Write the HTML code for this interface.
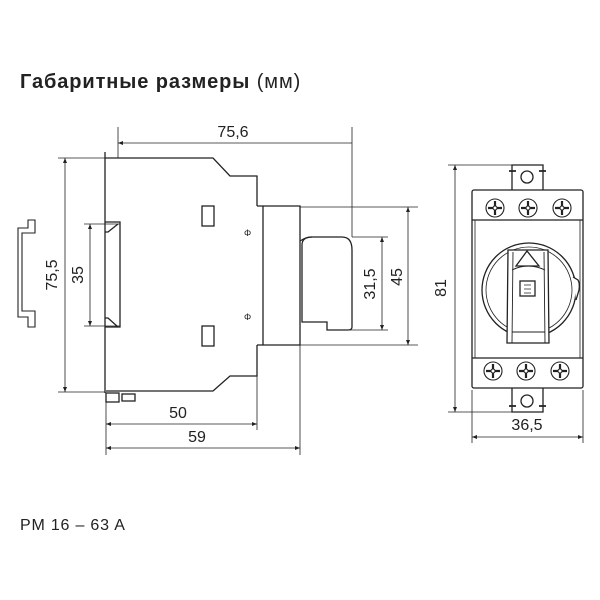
<!DOCTYPE html>
<html><head><meta charset="utf-8"><style>
html,body{margin:0;padding:0;background:#fff;width:600px;height:600px;overflow:hidden}
svg{display:block}
text{font-family:"Liberation Sans","DejaVu Sans",sans-serif;fill:#222}
</style></head><body>
<svg width="600" height="600" viewBox="0 0 600 600" xmlns="http://www.w3.org/2000/svg">
<defs>
<marker id="a" viewBox="0 0 10 10" refX="10" refY="5" markerWidth="7" markerHeight="5" orient="auto-start-reverse" markerUnits="userSpaceOnUse"><path d="M0,1 L10,5 L0,9 Z" fill="#222"/></marker>
</defs>
<text x="20" y="88" font-size="20" font-weight="bold" letter-spacing="0.9">Габаритные размеры <tspan font-weight="normal">(мм)</tspan></text>
<text x="20" y="530" font-size="16" letter-spacing="0.8">PM 16 – 63 A</text>

<g fill="none" stroke="#222" stroke-width="1.3">
<path d="M28,220 H35 V233 H22 V311 H35 V327 H28 V317 H18 V228 H28 Z" stroke-width="1.1"/>
<path d="M105,152 V393 M105,158 H213 L230,176 H257 V206 M257,345 V376 H230 L213,391 H106"/>
<path d="M257,206 H300 V345 H257"/>
<path d="M263,206 V345"/>
<path d="M105,222 H120 V327 H105 M105,232 L108,232 L118,224 M105,318 L108,318 L118,327"/>
<rect x="202" y="206" width="12" height="20"/>
<rect x="202" y="326" width="12" height="20"/>
<rect x="106" y="393" width="13" height="9"/>
<rect x="122" y="394" width="13" height="7"/>
<path d="M302,245 Q302,237 312,237 H342 Q352,237 352,250 V327 Q352,330 348,330 H327 V322 H302 Z"/>
<path d="M300,241 Q306,237 312,237"/>
</g>
<g font-size="9" fill="#222"><text x="244" y="236">Φ</text><text x="244" y="320">Φ</text></g>

<g stroke="#222" stroke-width="0.8" fill="none">
<path d="M118,127 V158 M352,127 V237"/>
<path d="M118,143 H352" marker-start="url(#a)"/>
<path d="M58,158 H105 M58,392 H105"/>
<path d="M65,158 V392" marker-start="url(#a)" marker-end="url(#a)"/>
<path d="M84,224 H120 M84,326 H120"/>
<path d="M90,224 V326" marker-start="url(#a)" marker-end="url(#a)"/>
<path d="M106,393 V455 M257,376 V430 M300,345 V455"/>
<path d="M106,424 H257" marker-start="url(#a)" marker-end="url(#a)"/>
<path d="M106,448 H300" marker-start="url(#a)" marker-end="url(#a)"/>
<path d="M352,237 H388 M327,330 H388"/>
<path d="M382,237 V330" marker-start="url(#a)" marker-end="url(#a)"/>
<path d="M300,207 H418 M300,345 H418"/>
<path d="M408,207 V345" marker-start="url(#a)" marker-end="url(#a)"/>
<path d="M448,165 H520 M448,412 H520"/>
<path d="M455,165 V412" marker-start="url(#a)" marker-end="url(#a)"/>
<path d="M472,390 V443 M583,390 V443"/>
<path d="M472,437 H583" marker-start="url(#a)" marker-end="url(#a)"/>
</g>
<g font-size="16">
<text x="233" y="137" text-anchor="middle">75,6</text>
<text x="178" y="418" text-anchor="middle">50</text>
<text x="197" y="442" text-anchor="middle">59</text>
<text x="527" y="430" text-anchor="middle">36,5</text>
<text transform="translate(57,275) rotate(-90)" text-anchor="middle">75,5</text>
<text transform="translate(83,275) rotate(-90)" text-anchor="middle">35</text>
<text transform="translate(375,284) rotate(-90)" text-anchor="middle">31,5</text>
<text transform="translate(402,277) rotate(-90)" text-anchor="middle">45</text>
<text transform="translate(446,288) rotate(-90)" text-anchor="middle">81</text>
</g>

<g fill="none" stroke="#222" stroke-width="1.3">
<path d="M512,190 V165 H543 V190"/>
<circle cx="527" cy="177" r="6"/>
<path d="M512,388 V412 H543 V388"/>
<circle cx="527" cy="401" r="6"/>
<path d="M509,171 H516 M539,171 H546 M509,406 H516 M539,406 H546" stroke-width="1.8"/>
<rect x="472" y="190" width="111" height="198" rx="2"/>
<path d="M472,220 H583 M472,358 H583"/>
<path d="M475,220 V358 M580,220 V358" stroke-width="0.8"/>
<!-- handle disc -->
<circle cx="529" cy="290" r="47" fill="#fff"/>
<circle cx="529" cy="290" r="43" stroke-width="0.8"/>
<path d="M573,277 L578,280 Q580,283 579,290 L576,300" fill="#fff"/>
<path d="M508,250 H548 L549,343 H507 Z" fill="#fff"/>
<path d="M513,252 L512,343 M544,252 L545,343" stroke-width="0.9"/>
<path d="M512,270 Q528,262 545,270" stroke-width="0.9"/>
<path d="M512,332 H545" stroke-width="0.9"/>
<path d="M516,266 L527,251 L539,266 Z"/>
<rect x="520" y="281" width="15" height="15"/>
<path d="M524,285 H531 M524,289 H531 M524,293 H531" stroke-width="0.8"/>
</g>
<g fill="none" stroke="#222" stroke-width="1.1">
<g id="s"><circle cx="495" cy="208" r="9"/><path d="M495,201 V215 M488,208 H502" stroke-width="2.2"/><circle cx="495" cy="208" r="2" fill="#fff"/></g>
<use href="#s" x="33"/><use href="#s" x="67"/>
<use href="#s" x="-2" y="163"/><use href="#s" x="31" y="163"/><use href="#s" x="65" y="163"/>
</g>
</svg>
</body></html>
